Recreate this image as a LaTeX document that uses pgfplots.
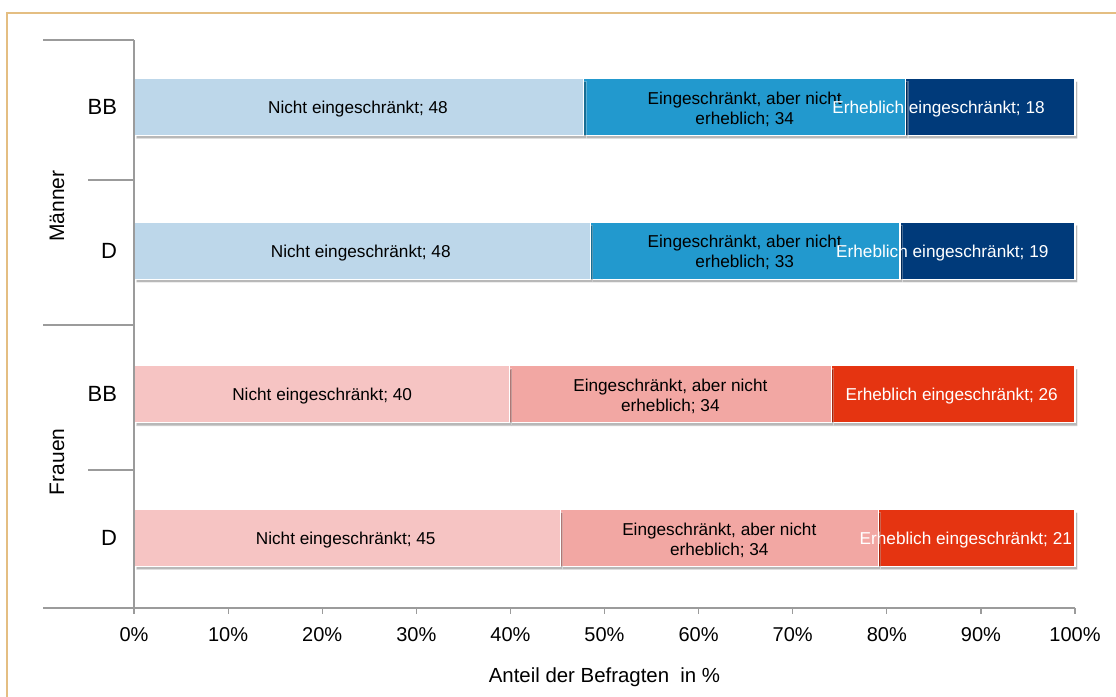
\documentclass[border=0pt]{standalone}
\usepackage{fontspec}
\setmainfont{Liberation Sans}
\usepackage{pgfplots}
\pgfplotsset{compat=1.18}
\usetikzlibrary{shadows}
\definecolor{lb}{RGB}{189,215,234}
\definecolor{mb}{RGB}{34,153,206}
\definecolor{db}{RGB}{0,58,122}
\definecolor{lr}{RGB}{246,196,195}
\definecolor{mr}{RGB}{242,167,163}
\definecolor{dr}{RGB}{229,52,17}
\definecolor{axisgray}{RGB}{155,155,155}
\definecolor{frame}{RGB}{228,190,130}
\pgfplotsset{
  base/.style={
    at={(67pt,44.5pt)}, anchor=south west, scale only axis,
    width=470.5pt, height=284pt,
    xmin=0, xmax=100, ymin=-0.487, ymax=3.466,
    clip=false,
  },
  bars/.style={
    xbar stacked, bar width=28.5pt,
    every axis plot/.append style={draw=white, line width=0.6pt,
      /tikz/drop shadow={shadow xshift=1.2pt, shadow yshift=-1.6pt, fill=black, opacity=0.28}},
  },
}
\tikzset{lbl/.style={font=\fontsize{8.6}{10}\selectfont, align=center, inner sep=0pt, yshift=-1pt}}
\begin{document}
\begin{tikzpicture}
\useasboundingbox (0,0) rectangle (558pt,348.5pt);
\draw[color=frame, line width=0.6pt] (3.5pt,-5pt) -- (3.5pt,342pt) -- (570pt,342pt);
% Frauen (rows 0,1)
\begin{axis}[base, bars,
  axis x line*=bottom, axis y line*=left,
  axis line style={draw=axisgray, line width=0.6pt},
  xtick={0,10,...,100},
  xticklabel={\pgfmathprintnumber{\tick}\%},
  /pgf/number format/assume math mode=true,
  tick align=outside,
  major x tick style={draw=axisgray, line width=0.6pt},
  major tick length=3pt,
  ytick={0,1,2,3}, yticklabels={D,BB,D,BB},
  major y tick style={draw=none},
  yticklabel style={xshift=-2pt, font=\fontsize{11}{13}\selectfont},
  xticklabel style={yshift=-3pt, font=\fontsize{10}{12}\selectfont},
  xlabel={Anteil der Befragten \ in \%},
  xlabel style={font=\fontsize{10.2}{12}\selectfont, at={(axis description cs:0.5,0)}, anchor=center, yshift=-34.5pt},
]
\addplot[fill=lr] coordinates {(45.3,0) (39.9,1)};
\addplot[fill=mr] coordinates {(33.8,0) (34.2,1)};
\addplot[fill=dr] coordinates {(20.9,0) (25.9,1)};
\end{axis}
% Maenner (rows 2,3)
\begin{axis}[base, bars, hide axis]
\addplot[fill=lb] coordinates {(48.5,2) (47.8,3)};
\addplot[fill=mb] coordinates {(32.9,2) (34.2,3)};
\addplot[fill=db] coordinates {(18.6,2) (18.0,3)};
\end{axis}
% labels and group separators
\begin{axis}[base, hide axis]
\node[lbl] at (axis cs:22.5,0) {Nicht eingeschränkt; 45};
\node[lbl] at (axis cs:62.2,0) {Eingeschränkt, aber nicht\\erheblich; 34};
\node[lbl, white] at (axis cs:88.4,0) {Erheblich eingeschränkt; 21};
\node[lbl] at (axis cs:20,1) {Nicht eingeschränkt; 40};
\node[lbl] at (axis cs:57.0,1) {Eingeschränkt, aber nicht\\erheblich; 34};
\node[lbl, white] at (axis cs:86.9,1) {Erheblich eingeschränkt; 26};
\node[lbl] at (axis cs:24.1,2) {Nicht eingeschränkt; 48};
\node[lbl] at (axis cs:64.9,2) {Eingeschränkt, aber nicht\\erheblich; 33};
\node[lbl, white] at (axis cs:85.9,2) {Erheblich eingeschränkt; 19};
\node[lbl] at (axis cs:23.8,3) {Nicht eingeschränkt; 48};
\node[lbl] at (axis cs:64.9,3) {Eingeschränkt, aber nicht\\erheblich; 34};
\node[lbl, white] at (axis cs:85.5,3) {Erheblich eingeschränkt; 18};
\draw[axisgray, line width=0.6pt] (axis cs:0,-0.487) -- (axis cs:0,3.466);
\draw[axisgray, line width=0.6pt] (axis cs:0,3.466) -- ([xshift=-45.5pt]axis cs:0,3.466);
\draw[axisgray, line width=0.6pt] (axis cs:0,2.491) -- ([xshift=-23pt]axis cs:0,2.491);
\draw[axisgray, line width=0.6pt] (axis cs:0,1.482) -- ([xshift=-45.5pt]axis cs:0,1.482);
\draw[axisgray, line width=0.6pt] (axis cs:0,0.473) -- ([xshift=-23pt]axis cs:0,0.473);
\draw[axisgray, line width=0.6pt] (axis cs:0,-0.487) -- ([xshift=-45.5pt]axis cs:0,-0.487);
\node[rotate=90, font=\fontsize{10.5}{12}\selectfont] at ([xshift=-38.5pt]axis cs:0,2.310) {Männer};
\node[rotate=90, font=\fontsize{10.5}{12}\selectfont] at ([xshift=-38.5pt]axis cs:0,0.530) {Frauen};
\end{axis}
\end{tikzpicture}
\end{document}
